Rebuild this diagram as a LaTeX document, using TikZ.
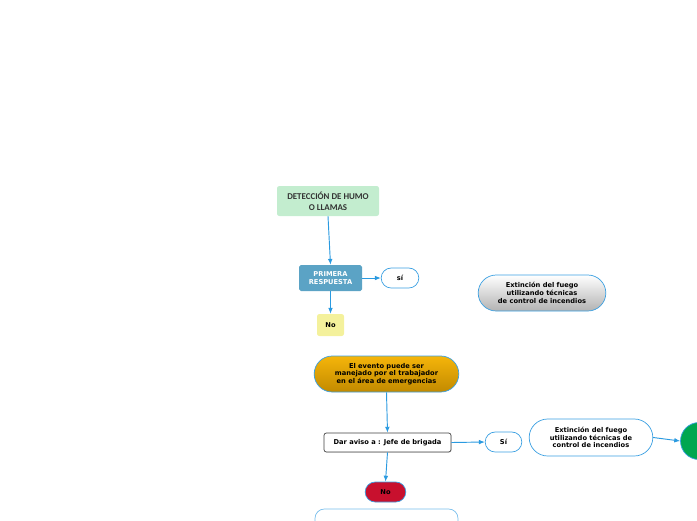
\documentclass[tikz,border=0pt]{standalone}
\usepackage{fontspec}
\setmainfont{DejaVu Sans}
\newfontfamily\detfont{Carlito}
\usetikzlibrary{shapes.misc,shapes.geometric,arrows.meta,shadows}
\definecolor{linkblue}{HTML}{2A9AE0}
\definecolor{pillblue}{HTML}{3BA0E2}
\definecolor{detgreen}{HTML}{C3EDCF}
\definecolor{respblue}{HTML}{5BA3C5}
\definecolor{noyellow}{HTML}{F4F19C}
\definecolor{nored}{HTML}{C8102E}
\definecolor{endgreen}{HTML}{00A650}
\definecolor{orangetop}{HTML}{F5B50A}
\definecolor{orangebot}{HTML}{C28A00}
\tikzset{
  txt/.style={font=\fontsize{5.7}{6.6}\selectfont\bfseries, align=center, inner sep=1pt},
  pill/.style={txt, rounded rectangle, draw=pillblue, line width=0.6pt, fill=white},
  link/.style={draw=linkblue, line width=0.8pt, -{Latex[length=5pt,width=4pt]}}
}
\begin{document}
\begin{tikzpicture}[x=0.03cm, y=-0.03cm]
    \useasboundingbox (0,0) rectangle (697,520);
    \clip (0,0) rectangle (697,520);
    % first part
    \node[txt, font=\detfont\fontsize{7.6}{9.5}\selectfont\bfseries, fill=detgreen, rounded corners=2pt, minimum width=3.06cm, minimum height=0.9cm, text=black!80] (deteccion) at (328,201) {DETECCIÓN DE HUMO\\O LLAMAS};
    \node[txt, fill=respblue, text=white, rounded corners=1.5pt, minimum width=1.89cm, minimum height=0.78cm] (primera) at (330.5,278) {PRIMERA\\RESPUESTA};
    \node[pill, minimum width=1.2cm, minimum height=0.6cm] (si1) at (400,278) {sí};
    \node[txt, fill=noyellow, rounded corners=2pt, minimum width=0.81cm, minimum height=0.66cm] (no1) at (330.5,325) {No};
    \node[pill, top color=white, bottom color=black!30, minimum width=3.9cm, minimum height=1.08cm] (extincion1) at (542,293) {Extinción del fuego\\utilizando técnicas\\de control de incendios};
    % second part
    \node[pill, top color=orangetop, bottom color=orangebot, minimum width=4.41cm, minimum height=1.08cm] (evento) at (386.5,374) {El evento puede ser\\manejado por el trabajador\\en el área de emergencias};
    \node[txt, draw=black!75, fill=white, rounded corners=2pt, line width=0.6pt, drop shadow={opacity=0.25, shadow xshift=0.5pt, shadow yshift=-0.5pt}, minimum width=3.81cm, minimum height=0.57cm] (aviso) at (387.5,442.5) {Dar aviso a : Jefe de brigada};
    \node[pill, minimum width=1.17cm, minimum height=0.6cm] (si2) at (503.5,442) {Sí};
    \node[pill, minimum width=3.78cm, minimum height=1.11cm] (extincion2) at (591,437.5) {Extinción del fuego\\utilizando técnicas de\\control de incendios};
    \node[circle, fill=endgreen, draw=pillblue, line width=0.6pt, minimum size=1.11cm] (fin) at (699,441) {};
    \node[pill, fill=nored, minimum width=1.29cm, minimum height=0.6cm] (no2) at (385.5,492) {No};
    \draw[draw=pillblue!70, line width=0.6pt, rounded corners=8pt] (315,560) -- (315,509) -- (458,509) -- (458,560);
    % connectors
    \draw[link] (deteccion.south) -- (primera.north);
    \draw[link] (primera.east) -- (si1.west);
    \draw[link] (primera.south) -- (no1.north);
    \draw[link] (evento.south) -- (aviso.north);
    \draw[link] (aviso.east) -- (si2.west);
    \draw[link] (aviso.south) -- (no2.north);
    \draw[link] (extincion2.east) -- (fin.west);
\end{tikzpicture}
\end{document}
